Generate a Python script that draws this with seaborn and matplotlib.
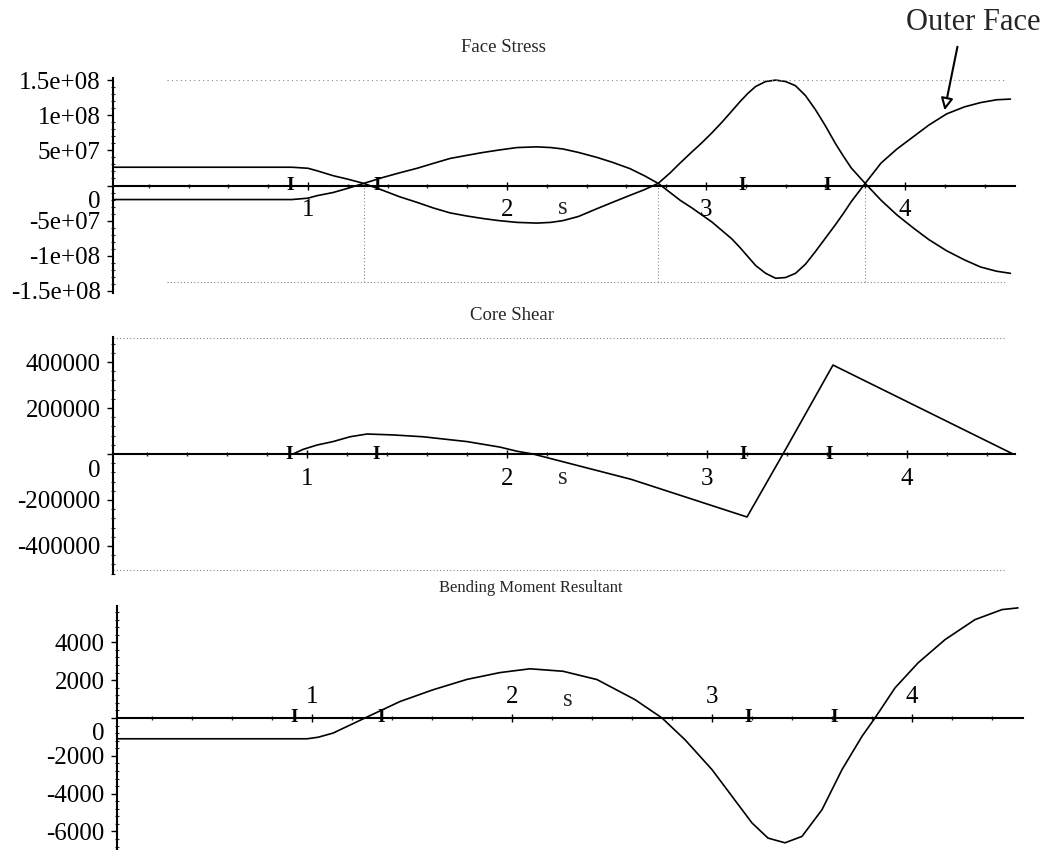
import numpy as np
import pandas as pd
import matplotlib
matplotlib.use("Agg")
import matplotlib.pyplot as plt
from matplotlib.ticker import MultipleLocator
from matplotlib.transforms import ScaledTranslation
import seaborn as sns

# ---------------- data ----------------
# Face stress (values in 1e7), both faces read at the same s positions
face_s = [0.02, 0.5, 0.92, 1.0, 1.045, 1.126, 1.2, 1.28, 1.377, 1.46, 1.548, 1.63, 1.714,
          1.8, 1.879, 1.96, 2.05, 2.15, 2.22, 2.281, 2.36, 2.452, 2.53, 2.618, 2.69, 2.76,
          2.82, 2.87, 2.93, 2.98, 3.03, 3.08, 3.13, 3.17, 3.21, 3.25, 3.30, 3.35, 3.40,
          3.45, 3.50, 3.55, 3.60, 3.65, 3.69, 3.73, 3.80, 3.88, 3.96, 4.04, 4.12, 4.21,
          4.30, 4.38, 4.46, 4.53]
face_inner_v = [2.6, 2.6, 2.6, 2.45, 2.1, 1.4, 0.9, 0.3, -0.7, -1.6, -2.4, -3.2, -3.9,
                -4.35, -4.7, -5.0, -5.25, -5.35, -5.25, -5.0, -4.4, -3.3, -2.4, -1.4, -0.6, 0.3,
                1.8, 3.2, 4.8, 6.1, 7.5, 9.0, 10.6, 11.9, 13.1, 14.1, 14.8, 15.0, 14.8,
                14.2, 12.8, 10.8, 8.5, 6.0, 4.2, 2.5, 0.3, -2.1, -4.2, -6.0, -7.7, -9.3,
                -10.6, -11.6, -12.2, -12.5]
face_outer_v = [-2.0, -2.0, -2.0, -1.8, -1.45, -1.0, -0.4, 0.3, 1.15, 1.8, 2.45, 3.15, 3.85,
                4.3, 4.7, 5.05, 5.4, 5.5, 5.4, 5.2, 4.7, 4.0, 3.3, 2.4, 1.4, 0.3,
                -1.0, -2.1, -3.2, -4.2, -5.2, -6.4, -7.6, -8.8, -10.1, -11.4, -12.5, -13.2, -13.1,
                -12.5, -11.2, -9.4, -7.5, -5.6, -4.0, -2.3, 0.3, 3.2, 5.2, 6.9, 8.6, 10.2,
                11.2, 11.8, 12.2, 12.3]
face_scale = 1e7
face_zero_s = [1.28, 2.76, 3.80]
face_yticks = [1.5e8, 1e8, 5e7, 0, -5e7, -1e8, -1.5e8]
face_yticklabels = ["1.5e+08", "1e+08", "5e+07", "0", "-5e+07", "-1e+08", "-1.5e+08"]

# Core shear (values in 1e5)
shear_s = [0.02, 0.93, 0.98, 1.05, 1.13, 1.215, 1.30, 1.43, 1.58, 1.80, 1.965, 2.05, 2.13,
           2.62, 3.20, 3.38, 3.63, 4.53]
shear_v = [0.0, 0.0, 0.2, 0.39, 0.54, 0.75, 0.87, 0.83, 0.75, 0.54, 0.3, 0.12, 0.0,
           -1.1, -2.74, 0.0, 3.87, 0.0]
shear_scale = 1e5
shear_yticks = [400000, 200000, 0, -200000, -400000]
shear_yticklabels = ["400000", "200000", "0", "-200000", "-400000"]

# Bending moment resultant (values in 1e3)
moment_s = [0.02, 0.5, 0.975, 1.03, 1.105, 1.275, 1.44, 1.605, 1.775, 1.94, 2.09, 2.255,
            2.425, 2.615, 2.75, 2.865, 3.0, 3.1, 3.2, 3.28, 3.365, 3.45, 3.55, 3.65, 3.75,
            3.815, 3.915, 4.03, 4.165, 4.315, 4.45, 4.53]
moment_v = [-1.1, -1.1, -1.1, -1.02, -0.8, 0.05, 0.87, 1.49, 2.04, 2.4, 2.6, 2.47,
            2.03, 0.97, 0.0, -1.15, -2.73, -4.14, -5.55, -6.35, -6.6, -6.26, -4.85, -2.73, -0.97,
            0.0, 1.59, 2.91, 4.14, 5.2, 5.73, 5.82]
moment_scale = 1e3
moment_yticks = [4000, 2000, 0, -2000, -4000, -6000]
moment_yticklabels = ["4000", "2000", "0", "-2000", "-4000", "-6000"]

# section markers ("I") along the s axis
section_s = [0.91, 1.345, 3.18, 3.61]
xticks = [1, 2, 3, 4]
xticklabels = ["1", "2", "3", "4"]
s_label_pos = 2.28

titles = ["Face Stress", "Core Shear", "Bending Moment Resultant"]

# ---------------- style ----------------
sns.set_style("white")
plt.rcParams["font.family"] = ["Liberation Serif", "DejaVu Serif"]

W, H = 1060, 850
fig = plt.figure(figsize=(W / 100, H / 100), dpi=100)

def frac(left, top, right, bottom):
    return [left / W, 1 - bottom / H, (right - left) / W, (bottom - top) / H]

ax1 = fig.add_axes(frac(113, 78, 1015, 293))
ax2 = fig.add_axes(frac(113, 337, 1015, 574))
ax3 = fig.add_axes(frac(117, 606, 1023, 850))

LW = 1.2
TICKFS = 18

def style_axis(ax, xlim, ylim, yticks, yticklabels, yminor, axis_top=False):
    ax.set_xlim(*xlim)
    ax.set_ylim(*ylim)
    ax.patch.set_alpha(0)
    for sp in ["top", "right", "bottom", "left"]:
        ax.spines[sp].set_visible(False)
    ax.spines["left"].set_visible(True)
    ax.spines["left"].set_linewidth(1.5)
    ax.spines["left"].set_color("black")
    xs = "top" if axis_top else "bottom"
    ax.spines[xs].set_visible(True)
    ax.spines[xs].set_position(("data", 0))
    ax.spines[xs].set_linewidth(1.5)
    ax.spines[xs].set_color("black")
    ax.xaxis.set_ticks_position(xs)
    ax.set_xticks(xticks)
    ax.set_xticklabels(xticklabels, fontsize=TICKFS)
    ax.xaxis.set_minor_locator(MultipleLocator(0.2))
    ax.tick_params(axis="x", which="major", direction="inout", length=6, width=1,
                   pad=(4 if axis_top else 7), colors="black")
    ax.tick_params(axis="x", which="minor", direction="inout", length=3, width=1)
    ax.set_yticks(yticks)
    ax.set_yticklabels(yticklabels, fontsize=TICKFS)
    ax.yaxis.set_minor_locator(MultipleLocator(yminor))
    ax.tick_params(axis="y", which="major", direction="out", length=4, width=1, pad=5,
                   colors="black", left=True)
    ax.tick_params(axis="y", which="minor", direction="inout", length=3, width=0.8, left=True)
    ax.set_xlabel("")
    ax.set_ylabel("")
    # shift the "0" label down a bit like the original
    for lab, val in zip(ax.get_yticklabels(), yticks):
        if val == 0:
            lab.set_transform(lab.get_transform() + ScaledTranslation(0, -0.14, fig.dpi_scale_trans))
    # section markers
    for xs_ in section_s:
        ax.text(xs_, 0, "I", fontsize=14, fontweight="bold", ha="center", va="center",
                color="black")

# ---------------- panel 1: face stress ----------------
df_face = pd.DataFrame({
    "s": face_s * 2,
    "v": np.concatenate([np.array(face_inner_v), np.array(face_outer_v)]) * face_scale,
    "face": ["inner"] * len(face_s) + ["outer"] * len(face_s),
})
sns.lineplot(data=df_face, x="s", y="v", units="face", ax=ax1, color="black",
             linewidth=LW, estimator=None, legend=False)
ax1.axhline(1.5e8, xmin=0.06, xmax=0.99, color="#888888", lw=0.8, ls=(0, (1, 3)))
ax1.axhline(-1.37e8, xmin=0.06, xmax=0.99, color="#888888", lw=0.8, ls=(0, (1, 2)))
ax1.vlines(face_zero_s, -1.37e8, 0, color="#888888", lw=0.8, ls=(0, (1, 2)))
style_axis(ax1, (0.02, 4.553), (-1.53e8, 1.53e8), face_yticks, face_yticklabels, 1e7)

# ---------------- panel 2: core shear ----------------
df_sh = pd.DataFrame({"s": shear_s, "v": np.array(shear_v) * shear_scale})
sns.lineplot(data=df_sh, x="s", y="v", ax=ax2, color="black", linewidth=LW, estimator=None)
ax2.axhline(5.05e5, xmin=0.0, xmax=0.99, color="#888888", lw=0.8, ls=(0, (1, 2)))
ax2.axhline(-5.05e5, xmin=0.0, xmax=0.99, color="#888888", lw=0.8, ls=(0, (1, 2)))
style_axis(ax2, (0.03, 4.54), (-5.22e5, 5.09e5), shear_yticks, shear_yticklabels, 4e4)

# ---------------- panel 3: bending moment ----------------
df_m = pd.DataFrame({"s": moment_s, "v": np.array(moment_v) * moment_scale})
sns.lineplot(data=df_m, x="s", y="v", ax=ax3, color="black", linewidth=LW, estimator=None)
style_axis(ax3, (0.025, 4.555), (-6.98e3, 5.92e3), moment_yticks, moment_yticklabels, 400,
           axis_top=True)

# "s" axis labels
ax1.annotate("s", xy=(s_label_pos, 0), xytext=(0, -22), textcoords="offset pixels",
             ha="center", va="center", fontsize=TICKFS)
ax2.annotate("s", xy=(s_label_pos, 0), xytext=(0, -24), textcoords="offset pixels",
             ha="center", va="center", fontsize=TICKFS)
ax3.annotate("s", xy=(s_label_pos, 0), xytext=(0, 18), textcoords="offset pixels",
             ha="center", va="center", fontsize=TICKFS)

# titles
fig.text(503 / W, 1 - 48 / H, titles[0], ha="center", va="center", fontsize=13.5)
fig.text(512 / W, 1 - 315 / H, titles[1], ha="center", va="center", fontsize=13.5)
fig.text(531 / W, 1 - 588 / H, titles[2], ha="center", va="center", fontsize=12)

# Outer Face annotation
fig.text(973 / W, 1 - 22 / H, "Outer Face", ha="center", va="center", fontsize=22)
fig.add_artist(matplotlib.patches.FancyArrowPatch(
    (958 / W, 1 - 44 / H), (944 / W, 1 - 113 / H), transform=fig.transFigure,
    arrowstyle="-|>", mutation_scale=18, lw=1.5, ec="black", fc="white"))

fig.savefig("out.png", dpi=100)
